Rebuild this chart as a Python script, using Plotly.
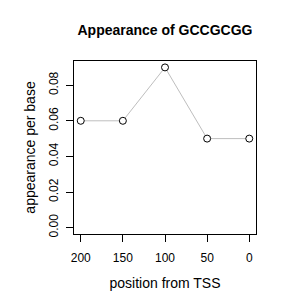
import plotly.graph_objects as go

positions = [200, 150, 100, 50, 0]
appearance = [0.06, 0.06, 0.09, 0.05, 0.05]
x_ticks = [200, 150, 100, 50, 0]
y_ticks = [0.00, 0.02, 0.04, 0.06, 0.08]
y_tick_labels = ["0.00", "0.02", "0.04", "0.06", "0.08"]

fig = go.Figure()
fig.add_trace(go.Scatter(
    x=positions, y=appearance, mode="lines+markers",
    line=dict(color="#BEBEBE", width=1),
    marker=dict(symbol="circle", size=7, color="white",
                line=dict(color="black", width=1)),
    showlegend=False, cliponaxis=False,
))

font = dict(family="Liberation Sans, Arial, sans-serif", size=12, color="black")
fig.update_layout(
    width=300, height=300,
    margin=dict(l=74, r=44, t=61, b=60),
    paper_bgcolor="white", plot_bgcolor="white",
    font=font,
    title=dict(text="<b>Appearance of GCCGCGG</b>", x=165/300, xanchor="center",
               y=1-30/300, yanchor="middle",
               font=dict(family="Liberation Sans, Arial, sans-serif", size=14, color="black")),
)
fig.update_xaxes(
    range=[208, -8], tickvals=x_ticks, ticktext=[str(v) for v in x_ticks],
    showgrid=False, zeroline=False, showline=True, mirror=True,
    linecolor="black", linewidth=1, ticks="outside", ticklen=7,
    tickcolor="black", tickwidth=1, ticklabelstandoff=6,
    title=dict(text="position from TSS", standoff=13),
)
fig.update_yaxes(
    range=[-0.0036, 0.0936], tickvals=y_ticks, ticktext=y_tick_labels,
    tickangle=-90,
    showgrid=False, zeroline=False, showline=True, mirror=True,
    linecolor="black", linewidth=1, ticks="outside", ticklen=7,
    tickcolor="black", tickwidth=1, ticklabelstandoff=3,
    title=dict(text="appearance per base", standoff=8),
)
fig.write_html("out.html")
